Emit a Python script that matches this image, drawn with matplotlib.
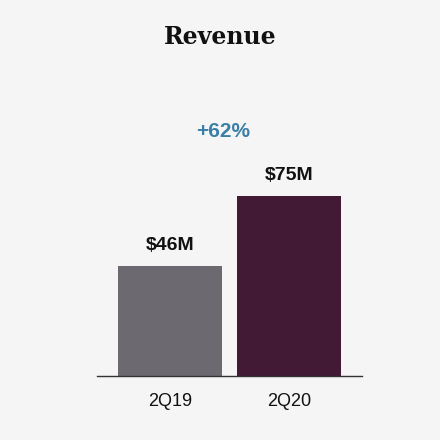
import matplotlib.pyplot as plt

categories = ['2Q19', '2Q20']
values = [46, 75]
value_labels = ['$46M', '$75M']
colors = ['#6c6a70', '#431a36']
growth_label = '+62%'

fig = plt.figure(figsize=(4.4, 4.4), dpi=100)
fig.patch.set_facecolor('#f5f5f5')
ax = fig.add_axes([0.2205, 0.1455, 0.602, 0.627])
ax.set_facecolor('#f5f5f5')

x = range(len(categories))
bars = ax.bar(x, values, width=0.874, color=colors)
for bar, lab in zip(bars, value_labels):
    ax.text(bar.get_x() + bar.get_width() / 2, bar.get_height() + 5, lab,
            ha='center', va='bottom', fontsize=14, fontweight='bold',
            color='#111111', family='Liberation Sans')

ax.set_xlim(-0.613, 1.614)
ax.set_ylim(0, 115)
ax.set_xticks(list(x))
ax.set_xticklabels(categories, fontsize=13, family='Liberation Sans', color='#111111')
ax.tick_params(axis='x', length=0, pad=12)
ax.set_yticks([])
for s in ['top', 'right', 'left']:
    ax.spines[s].set_visible(False)
ax.spines['bottom'].set_color('#333333')
ax.spines['bottom'].set_linewidth(1.0)

fig.text(0.507, 0.702, growth_label, ha='center', va='center', fontsize=15,
         fontweight='bold', color='#3b7fa8', family='Liberation Sans')
fig.text(0.5, 0.916, 'Revenue', ha='center', va='center', fontsize=17,
         fontweight='bold', color='#111111', family='DejaVu Serif')

fig.savefig('out.png', dpi=100, facecolor=fig.get_facecolor())
